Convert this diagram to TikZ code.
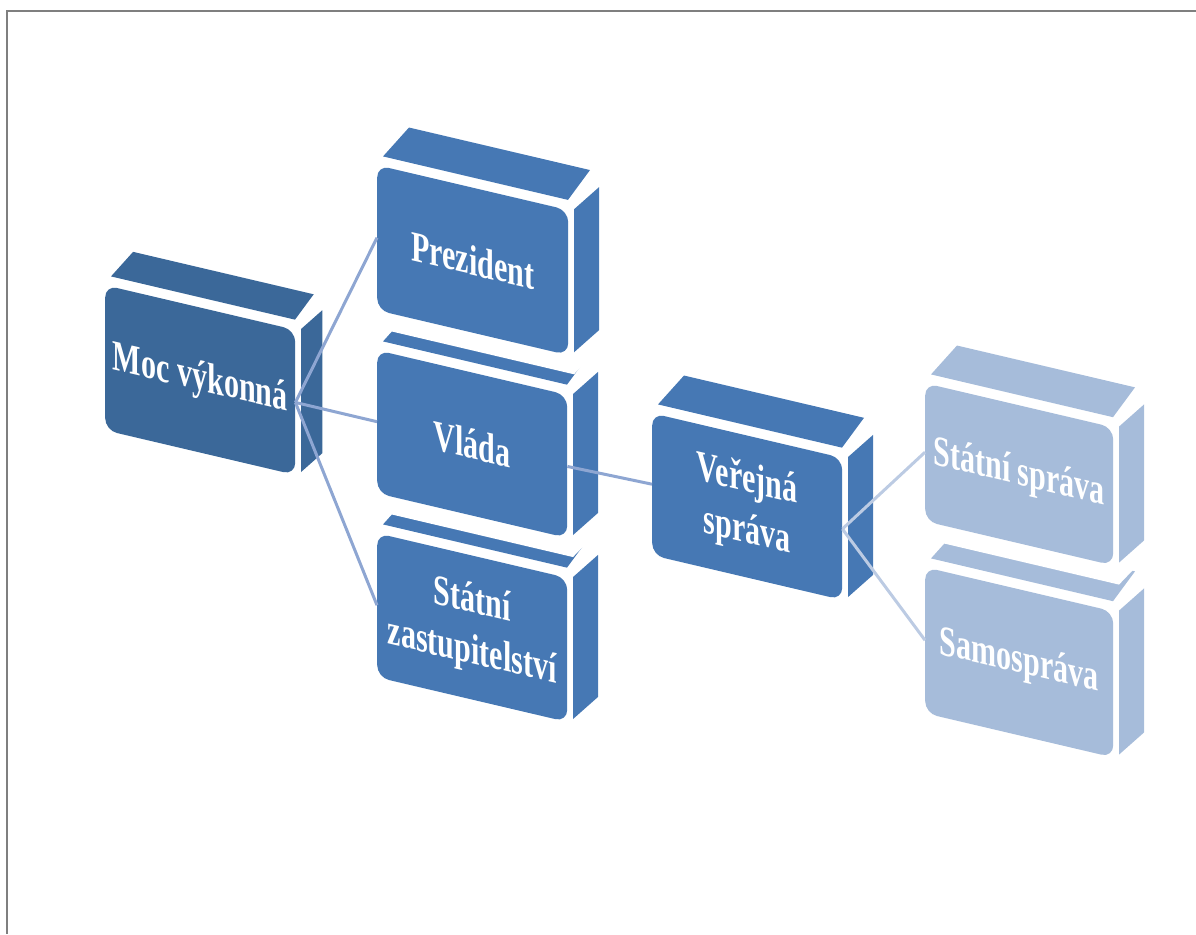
\documentclass[tikz,border=0pt]{standalone}
\usepackage{fontspec}
\setmainfont{Liberation Serif}
\newfontfamily\boxfont[FakeStretch=0.7]{Liberation Serif}
\definecolor{darkb}{HTML}{3B6899}
\definecolor{midb}{HTML}{4678B4}
\definecolor{lightb}{HTML}{A6BCDA}
\definecolor{linkA}{HTML}{8EA6D2}
\definecolor{linkB}{HTML}{BCCBE3}
\definecolor{framec}{HTML}{7F7F7F}
\newcommand\cubebox[8]{%
  % #1 name, #2 x, #3 y, #4 w, #5 h, #6 depth scale, #7 colour, #8 text
  \begin{scope}[shift={(#2,#3)}, yslant=-0.235]
    \fill[white] (-2,-4) -- (#4+4,-4) -- (#4+6+25*#6,-2-28*#6) -- (#4+6+25*#6,#5+14-28*#6)
      -- (#4+6,#5+18) -- (-2,#5+18) -- cycle;
    \fill[#7] (6,-10) -- (#4,-10) -- ++(22*#6,-35*#6) -- (6+26*#6,-10-35*#6) -- cycle;
    \fill[#7] (#4+6,-2) -- ++(25*#6,-28*#6) -- (#4+6+25*#6,#5-4-28*#6) -- (#4+6,#5-4) -- cycle;
    \node[frontface, fill=#7, minimum width=#4, minimum height=#5] (#1) at (0,0) {#8};
  \end{scope}}
\begin{document}
\begin{tikzpicture}[x=1pt,y=-1pt,
  frontface/.style={draw=none, rounded corners=12pt, anchor=north west, transform shape,
    text=white, align=center, inner sep=0pt,
    font=\boxfont\bfseries\fontsize{43}{51}\selectfont},
  linkline/.style={line width=3pt},
  framestyle/.style={draw=framec, line width=1.5pt}]
\useasboundingbox (0,0) rectangle (1196,934);
\draw[framestyle] (1196,11) -- (7,11) -- (7,934);
\cubebox{moc}{105}{285}{190}{145}{0.85}{darkb}{Moc výkonná}
\cubebox{zast}{377}{533}{190}{144}{1}{midb}{Státní\\zastupitelství}
\cubebox{vlada}{377}{350}{190}{143}{1}{midb}{Vláda}
\cubebox{prez}{377}{165}{191}{145}{1}{midb}{Prezident}
\cubebox{ver}{652}{413}{190}{142}{1}{midb}{Veřejná\\správa}
\cubebox{samo}{925}{567}{188}{146}{1}{lightb}{Samospráva}
\cubebox{statni}{925}{383}{188}{138}{1}{lightb}{Státní správa}
\draw[linkline, linkA] (moc.east) -- (prez.west);
\draw[linkline, linkA] (moc.east) -- (vlada.west);
\draw[linkline, linkA] (moc.east) -- (zast.west);
\draw[linkline, linkA] (vlada.east) -- (ver.west);
\draw[linkline, linkB] (ver.east) -- (statni.west);
\draw[linkline, linkB] (ver.east) -- (samo.west);
\end{tikzpicture}
\end{document}
